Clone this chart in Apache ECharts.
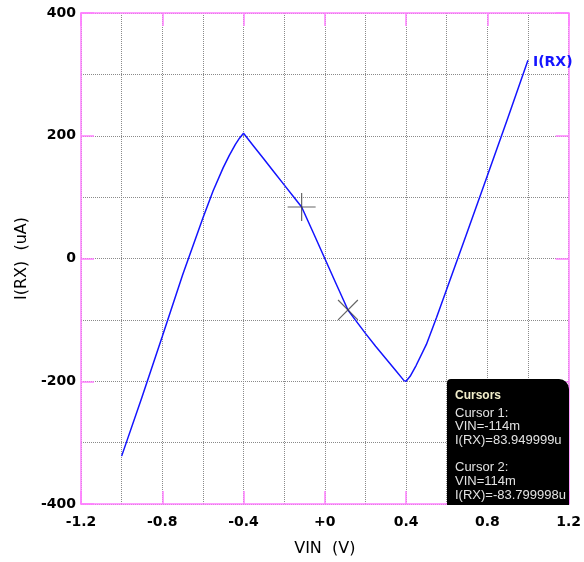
<!DOCTYPE html>
<html><head><meta charset="utf-8">
<script src="https://cdn.jsdelivr.net/npm/echarts@6/dist/echarts.min.js"></script>
<style>html,body{margin:0;padding:0;background:#fff}#c{width:584px;height:562px}</style>
</head><body><div id="c"></div>
<script>
var vin = [-1.0,-0.9,-0.8,-0.7,-0.6,-0.55,-0.5,-0.47,-0.44,-0.42,-0.4,-0.35,-0.3,-0.25,-0.2,-0.15,-0.114,-0.05,0,0.05,0.114,0.15,0.2,0.25,0.3,0.35,0.39,0.4,0.42,0.45,0.5,0.55,0.6,0.7,0.8,0.9,1.0];
var irx = [-322,-226,-127,-27,66,110,148,168,186,196,204,183,162,141,120,99,84,37,0,-37,-84,-100,-122,-143,-163,-183,-199,-200,-192,-174,-140,-96,-50,42,135,228,323];
var xTickLabels = ['-1.2','-0.8','-0.4','+0','0.4','0.8','1.2'];
var yTickLabels = ['-400','-200','0','200','400'];
var seriesName = 'I(RX)';
var cursorVin = [-0.114, 0.114];
var cursorIrx = [83.949999, -83.799998];
var cursorText = ['Cursor 1:','VIN=-114m','I(RX)=83.949999u','','Cursor 2:','VIN=114m','I(RX)=-83.799998u'];

var MAG = '#ff80ff';
var FONT = 'DejaVu Sans';
var chart = echarts.init(document.getElementById('c'));
function xLab(v){var i=Math.round((v+1.2)/0.4);return xTickLabels[i]||'';}
function yLab(v){var i=Math.round((v+400)/200);return yTickLabels[i]||'';}
var gridLine = {show:true,lineStyle:{color:'#8a8a8a',type:[1,1],width:1}};
function xa(pos,labels){return {type:'value',position:pos,min:-1.2,max:1.2,interval:0.4,
  axisLine:{show:true,onZero:false,lineStyle:{color:MAG,width:1.5}},
  axisTick:{show:true,inside:true,length:13,lineStyle:{color:MAG,width:1.5}},
  axisLabel:{show:labels,formatter:xLab,color:'#000',fontFamily:FONT,fontWeight:'bold',fontSize:14,margin:11},
  splitLine:labels?gridLine:{show:false},
  minorTick:{show:false,splitNumber:2},
  minorSplitLine:labels?gridLine:{show:false},
  name:labels?'VIN  (V)':'',nameLocation:'middle',nameGap:37,
  nameTextStyle:{color:'#000',fontFamily:FONT,fontSize:16}};}
function ya(pos,labels){return {type:'value',position:pos,min:-400,max:400,interval:200,
  axisLine:{show:true,onZero:false,lineStyle:{color:MAG,width:1.5}},
  axisTick:{show:true,inside:true,length:13,lineStyle:{color:MAG,width:1.5}},
  axisLabel:{show:labels,formatter:yLab,color:'#000',fontFamily:FONT,fontWeight:'bold',fontSize:14,margin:5},
  splitLine:labels?gridLine:{show:false},
  minorTick:{show:false,splitNumber:2},
  minorSplitLine:labels?gridLine:{show:false},
  name:labels?'I(RX)  (uA)':'',nameLocation:'middle',nameGap:45,nameRotate:90,
  nameTextStyle:{color:'#000',fontFamily:FONT,fontSize:16}};}

var lineData = vin.map(function(v,i){return [v,irx[i]];});
var children = [
  {type:'rect',z:100,shape:{x:0,y:0,width:122,height:126,r:[4,10,0,0]},style:{fill:'#000'}},
  {type:'text',z:101,x:8,y:17,style:{text:'Cursors',fill:'#f2eecb',font:'bold 12px "Liberation Sans"',textVerticalAlign:'middle'}}
].concat(cursorText.map(function(t,i){return {type:'text',z:101,x:8,y:34+i*13.7,
  style:{text:t,fill:'#e2e2e2',font:'13px "Liberation Sans"',textVerticalAlign:'middle'}};}));
var option = {
  animation:false,
  grid:{left:81,top:13,right:13,bottom:57,containLabel:false},
  xAxis:[xa('bottom',true),xa('top',false)],
  yAxis:[ya('left',true),ya('right',false)],
  series:[
    {type:'line',name:seriesName,data:lineData,showSymbol:false,symbol:'none',
     lineStyle:{color:'#1414ff',width:1.5},
     endLabel:{show:true,formatter:seriesName,color:'#1414ff',fontFamily:FONT,fontWeight:'bold',fontSize:14,distance:5,offset:[0,2]},
     z:3},
    {type:'scatter',data:[[cursorVin[0],cursorIrx[0]]],symbol:'path://M0,1L2,1M1,0L1,2',symbolSize:28,
     itemStyle:{color:'none',borderColor:'#404040',borderWidth:1.2},z:4},
    {type:'scatter',data:[[cursorVin[1],cursorIrx[1]]],symbol:'path://M0,1L2,1M1,0L1,2',symbolSize:28,symbolRotate:45,
     itemStyle:{color:'none',borderColor:'#404040',borderWidth:1.2},z:4}
  ],
  graphic:[{type:'group',left:447,top:379,z:100,children:children}]
};
chart.setOption(option);
</script></body></html>
